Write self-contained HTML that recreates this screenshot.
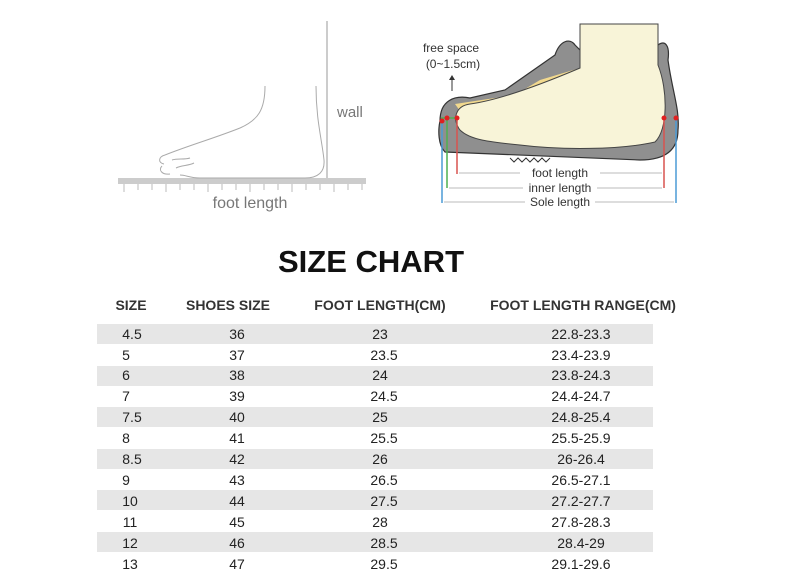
<!DOCTYPE html>
<html><head><meta charset="utf-8"><style>
body{margin:0;background:#fff;}
#w{position:relative;width:800px;height:584px;overflow:hidden;font-family:"Liberation Sans",Arial,sans-serif;color:#222;}
.t{position:absolute;white-space:nowrap;transform:translateX(-50%);}
.h{font-size:14px;font-weight:bold;color:#333;top:297px;}
.row{position:absolute;left:97px;width:556px;height:20px;}
.g{background:#e6e6e6;}
.c{position:absolute;font-size:14px;transform:translateX(-50%);white-space:nowrap;}
</style></head><body><div id="w">
<svg width="800" height="240" style="position:absolute;left:0;top:0" fill="none">
<!-- left sketch -->
<line x1="327" y1="21" x2="327" y2="178" stroke="#aaa" stroke-width="1.2"/>
<rect x="118" y="178" width="248" height="6" fill="#ccc"/>
<g stroke="#bbb" stroke-width="1">
<path d="M124 184v8M138 184v6M152 184v6M166 184v8M180 184v6M194 184v6M208 184v8M222 184v6M236 184v6M250 184v8M264 184v6M278 184v6M292 184v8M306 184v6M320 184v6M334 184v8M348 184v6M362 184v6"/>
</g>
<g stroke="#aaa" stroke-width="1">
<path d="M265 86 C265 110 258 120 240 128 C215 138 190 145 165 155"/>
<path d="M316 86 C316 120 322 140 324 160 C325 172 318 178 305 178 L200 178 C190 178 186 175 180 175"/>
<path d="M165 155 C158 157 158 163 164 164 M162 166 C158 170 162 175 170 174 M172 160 C178 158 184 160 190 158 M176 168 C182 165 188 166 194 163"/>
</g>
<text x="337" y="117" font-family="Liberation Sans" font-size="15" fill="#777">wall</text>
<text x="250" y="208" text-anchor="middle" font-family="Liberation Sans" font-size="16" fill="#777">foot length</text>
<!-- right shoe -->
<path d="M440 121 C440 100 455 95 470 98 L505 90 L555 55 C560 40 570 38 575 45 L580 50 L658 45 C665 40 670 45 668 60 C672 90 680 110 678 130 C678 150 665 160 640 160 L445 152 C438 145 438 130 440 121 Z" fill="#8f8f8f" stroke="#333" stroke-width="1.2"/>
<path d="M455 104 L515 95 L540 80 L580 68 L580 100 L470 125 Z" fill="#f2d98e"/>
<path d="M580 24 L658 24 L658 65 C668 90 668 130 655 142 C620 150 560 150 520 145 C490 142 470 140 460 130 C452 120 455 106 470 104 C500 100 540 85 580 68 Z" fill="#f8f4d8" stroke="#444" stroke-width="1"/>
<path d="M510 158 l4 4 l4 -4 l4 4 l4 -4 l4 4 l4 -4 l4 4 l4 -4 l4 4 l4 -4" stroke="#333" fill="none"/>
<line x1="442" y1="121" x2="442" y2="203" stroke="#4a9bd6" stroke-width="1.5"/>
<line x1="447" y1="118" x2="447" y2="188" stroke="#4cb050" stroke-width="1.5"/>
<line x1="457" y1="118" x2="457" y2="174" stroke="#d9534f" stroke-width="1.5"/>
<line x1="664" y1="118" x2="664" y2="188" stroke="#d9534f" stroke-width="1.5"/>
<line x1="676" y1="118" x2="676" y2="203" stroke="#4a9bd6" stroke-width="1.5"/>
<line x1="441" y1="118" x2="457" y2="118" stroke="#4cb050" stroke-width="1.5"/>
<g fill="#e02020"><circle cx="442" cy="121" r="2.5"/><circle cx="447" cy="118" r="2.5"/><circle cx="457" cy="118" r="2.5"/><circle cx="664" cy="118" r="2.5"/><circle cx="676" cy="118" r="2.5"/></g>
<line x1="452" y1="91" x2="452" y2="76" stroke="#333"/><path d="M449 80 L452 75 L455 80Z" fill="#333"/>
<g stroke="#bbb" stroke-width="1"><path d="M459 173H520M600 173H662M449 188H523M597 188H662M444 202H525M595 202H674"/></g>
<g font-family="Liberation Sans" font-size="12" fill="#333" text-anchor="middle">
<text x="451" y="52">free space</text><text x="453" y="68">(0~1.5cm)</text>
<text x="560" y="177">foot length</text><text x="560" y="192">inner length</text><text x="560" y="206">Sole length</text></g>
</svg>
<div class="t" style="left:371px;top:244px;font-size:31px;font-weight:bold;color:#111;">SIZE CHART</div>
<div class="t h" style="left:131px">SIZE</div>
<div class="t h" style="left:228px">SHOES SIZE</div>
<div class="t h" style="left:380px">FOOT LENGTH(CM)</div>
<div class="t h" style="left:583px">FOOT LENGTH RANGE(CM)</div>
<div class="row g" style="top:324px"></div>
<div class="row g" style="top:366px"></div>
<div class="row g" style="top:407px"></div>
<div class="row g" style="top:449px"></div>
<div class="row g" style="top:490px"></div>
<div class="row g" style="top:532px"></div>
<div id="rows"></div>
<script></script>
<div class="c" style="left:132px;top:326px">4.5</div><div class="c" style="left:237px;top:326px">36</div><div class="c" style="left:380px;top:326px">23</div><div class="c" style="left:581px;top:326px">22.8-23.3</div>
<div class="c" style="left:126px;top:347px">5</div><div class="c" style="left:237px;top:347px">37</div><div class="c" style="left:384px;top:347px">23.5</div><div class="c" style="left:581px;top:347px">23.4-23.9</div>
<div class="c" style="left:126px;top:367px">6</div><div class="c" style="left:237px;top:367px">38</div><div class="c" style="left:380px;top:367px">24</div><div class="c" style="left:581px;top:367px">23.8-24.3</div>
<div class="c" style="left:126px;top:388px">7</div><div class="c" style="left:237px;top:388px">39</div><div class="c" style="left:384px;top:388px">24.5</div><div class="c" style="left:581px;top:388px">24.4-24.7</div>
<div class="c" style="left:132px;top:409px">7.5</div><div class="c" style="left:237px;top:409px">40</div><div class="c" style="left:380px;top:409px">25</div><div class="c" style="left:581px;top:409px">24.8-25.4</div>
<div class="c" style="left:126px;top:430px">8</div><div class="c" style="left:237px;top:430px">41</div><div class="c" style="left:384px;top:430px">25.5</div><div class="c" style="left:581px;top:430px">25.5-25.9</div>
<div class="c" style="left:132px;top:451px">8.5</div><div class="c" style="left:237px;top:451px">42</div><div class="c" style="left:380px;top:451px">26</div><div class="c" style="left:581px;top:451px">26-26.4</div>
<div class="c" style="left:126px;top:472px">9</div><div class="c" style="left:237px;top:472px">43</div><div class="c" style="left:384px;top:472px">26.5</div><div class="c" style="left:581px;top:472px">26.5-27.1</div>
<div class="c" style="left:130px;top:493px">10</div><div class="c" style="left:237px;top:493px">44</div><div class="c" style="left:384px;top:493px">27.5</div><div class="c" style="left:581px;top:493px">27.2-27.7</div>
<div class="c" style="left:130px;top:514px">11</div><div class="c" style="left:237px;top:514px">45</div><div class="c" style="left:380px;top:514px">28</div><div class="c" style="left:581px;top:514px">27.8-28.3</div>
<div class="c" style="left:130px;top:535px">12</div><div class="c" style="left:237px;top:535px">46</div><div class="c" style="left:384px;top:535px">28.5</div><div class="c" style="left:581px;top:535px">28.4-29</div>
<div class="c" style="left:130px;top:556px">13</div><div class="c" style="left:237px;top:556px">47</div><div class="c" style="left:384px;top:556px">29.5</div><div class="c" style="left:581px;top:556px">29.1-29.6</div>
</div></body></html>
